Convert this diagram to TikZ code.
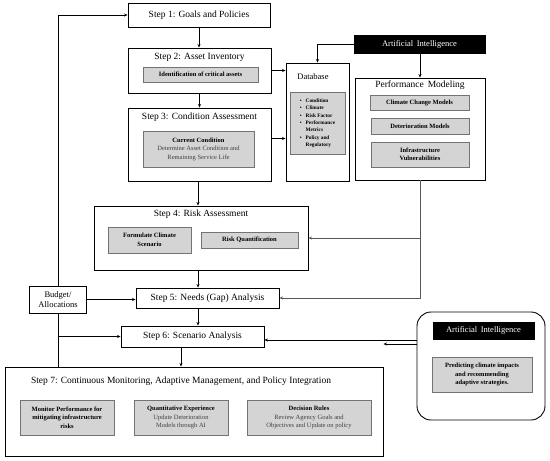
\documentclass[tikz,border=0pt]{standalone}
\usepackage{fontspec}
\setmainfont{Liberation Serif}
\usetikzlibrary{arrows.meta}
\begin{document}
\begin{tikzpicture}[x=1pt,y=-1pt,
  outer/.style={draw=black, line width=0.9pt, fill=white, inner sep=0pt},
  innerbox/.style={draw=black!55, fill=black!17, line width=0.8pt, align=center,
     font=\fontsize{6.5}{8.5}\selectfont\bfseries, inner sep=1pt},
  ttl/.style={font=\fontsize{9.5}{11}\selectfont, inner sep=0pt},
  aibox/.style={fill=black, draw=black, text=white, font=\fontsize{8.5}{10}\selectfont, inner sep=0pt},
  arr/.style={-{Stealth[length=3.5pt,width=3pt]}, line width=0.8pt},
  garr/.style={-{Stealth[length=3.5pt,width=3pt]}, line width=0.9pt, draw=black!65},
  ln/.style={line width=0.8pt}
]
\useasboundingbox (0,0) rectangle (550,461);

% Step 1
\node[outer, minimum width=142pt, minimum height=24pt, ttl] (s1) at (199,15) {Step 1: Goals and Policies};

% Step 2
\node[outer, minimum width=143pt, minimum height=45pt] (s2) at (199.5,70.5) {};
\node[ttl] (s2t) at (199.5,57) {Step 2: Asset Inventory};
\node[innerbox, minimum width=115pt, minimum height=15pt] (s2i) at (200.5,74.5) {Identification of critical assets};

% Step 3
\node[outer, minimum width=143pt, minimum height=73pt] (s3) at (199.5,144.5) {};
\node[ttl] (s3t) at (199.5,117) {Step 3: Condition Assessment};
\node[innerbox, minimum width=111pt, minimum height=36pt] (s3i) at (198.5,149) {Current Condition\\{\mdseries\color{black!75}Determine Asset Condition and}\\{\mdseries\color{black!75}Remaining Service Life}};

% Step 4
\node[outer, minimum width=214pt, minimum height=64pt] (s4) at (201,238) {};
\node[ttl] (s4t) at (201,214) {Step 4: Risk Assessment};
\node[innerbox, minimum width=83pt, minimum height=26pt] (s4a) at (149.5,240) {Formulate Climate\\Scenario};
\node[innerbox, minimum width=97pt, minimum height=16pt] (s4b) at (249.5,240) {Risk Quantification};

% Step 5, Step 6
\node[outer, minimum width=143pt, minimum height=20pt, ttl] (s5) at (207.5,298) {Step 5: Needs (Gap) Analysis};
\node[outer, minimum width=143pt, minimum height=21pt, ttl] (s6) at (192.5,336.5) {Step 6: Scenario Analysis};

% Budget
\node[outer, minimum width=57pt, minimum height=27pt, align=center, font=\fontsize{8.5}{10}\selectfont] (bud) at (58,299.5) {Budget/\\Allocations};

% Step 7
\node[outer, minimum width=378pt, minimum height=89pt] (s7) at (194,411.5) {};
\node[ttl] (s7t) at (181,381) {Step 7: Continuous Monitoring, Adaptive Management, and Policy Integration};
\node[innerbox, minimum width=94pt, minimum height=35pt] (s7a) at (67,417.5) {Monitor Performance for\\mitigating infrastructure\\risks};
\node[innerbox, minimum width=94pt, minimum height=35pt] (s7b) at (181,417.5) {Quantitative Experience\\{\mdseries\color{black!75}Update Deterioration}\\{\mdseries\color{black!75}Models through AI}};
\node[innerbox, minimum width=124pt, minimum height=35pt] (s7c) at (309,417.5) {Decision Rules\\{\mdseries\color{black!75}Review Agency Goals and}\\{\mdseries\color{black!75}Objectives and Update on policy}};

% Database
\node[outer, minimum width=63pt, minimum height=118pt] (db) at (317.5,122) {};
\node[font=\fontsize{8.5}{10}\selectfont, inner sep=0pt] (dbt) at (313,77) {Database};
\node[innerbox, minimum width=55pt, minimum height=62pt, font=\fontsize{5.3}{7.4}\selectfont\bfseries] (dbi) at (317.5,123) {%
\begin{tabular}{@{}c@{\hspace{4pt}}l@{}}
\textbullet & Condition\\
\textbullet & Climate\\
\textbullet & Risk Factor\\
\textbullet & Performance\\
 & Metrics\\
\textbullet & Policy and\\
 & Regulatory
\end{tabular}};

% AI top
\node[aibox, minimum width=131pt, minimum height=18pt] (ai1) at (419.5,44) {Artificial\, Intelligence};

% Performance modeling
\node[outer, minimum width=130pt, minimum height=102pt] (pm) at (420,129) {};
\node[ttl] (pmt) at (420,85) {Performance\, Modeling};
\node[innerbox, minimum width=99pt, minimum height=15pt] (pm1) at (419.5,102.5) {Climate Change Models};
\node[innerbox, minimum width=98pt, minimum height=16pt] (pm2) at (420,126) {Deterioration Models};
\node[innerbox, minimum width=98pt, minimum height=25pt] (pm3) at (420,154.5) {Infrastructure\\Vulnerabilities};

% Rounded AI box
\node[draw, line width=0.9pt, rounded corners=14pt, minimum width=128pt, minimum height=108pt] (rb) at (481,366) {};
\node[aibox, minimum width=101pt, minimum height=17pt] (ai2) at (483.5,330.5) {Artificial\, Intelligence};
\node[innerbox, minimum width=100pt, minimum height=35pt] (pred) at (482,374.5) {Predicting climate impacts\\and recommending\\adaptive strategies.};

% Main flow
\draw[arr] (s1.south) -- (s1.south |- s2.north);
\draw[arr] (s2.south) -- (s2.south |- s3.north);
\draw[arr] ([xshift=-1.5pt]s3.south) -- ([xshift=-1.5pt]s3.south |- s4.north);
\draw[arr] ([xshift=-3pt]s4.south) -- ([xshift=-3pt]s4.south |- s5.north);
\draw[arr] ([xshift=-3pt]s4.south |- s5.south) -- ([xshift=-3pt]s4.south |- s6.north);
\draw[arr] ([xshift=-11.5pt]s6.south) -- ([xshift=-11.5pt]s6.south |- s7.north);

% To database
\draw[arr] (s2.east) -- (s2.east -| db.west);
\draw[arr] ([yshift=6pt]s3.east) -- ([yshift=6pt]s3.east -| db.west);

% AI top connectors
\draw[arr] (ai1.west) -| (db.north);
\draw[arr] (ai1.south -| pm.north) -- (pm.north);

% Performance modeling to steps 4 and 5
\draw[garr] (pm.south) |- (s5.east);
\draw[garr] (pm.south |- s4.east) -- (s4.east);

% Left feedback loop
\draw[arr] (bud.north) |- (s1.west);
\draw[ln] (bud.south) -- (bud.south |- s7.north);
\draw[arr] (bud.east) -- (bud.east -| s5.west);
\draw[arr] (bud.south |- s6.west) -- (s6.west);

% Rounded AI box connectors
\draw[arr] ([yshift=-3.5pt]rb.west |- s6.east) -- ([yshift=-3.5pt]s6.east);
\draw[arr] ([yshift=22pt]rb.west) -- ([yshift=22pt]rb.west -| s7.east);
\end{tikzpicture}
\end{document}
